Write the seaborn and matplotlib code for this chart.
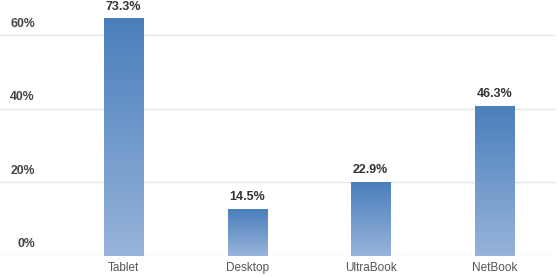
import numpy as np
import pandas as pd
import matplotlib
matplotlib.use("Agg")
import matplotlib.pyplot as plt
import seaborn as sns
from matplotlib.colors import LinearSegmentedColormap
import matplotlib.transforms as mtransforms

categories = ["Tablet", "Desktop", "UltraBook", "NetBook"]
values = [73.3, 14.5, 22.9, 46.3]
value_labels = ["73.3%", "14.5%", "22.9%", "46.3%"]
tick_labels = ["0%", "20%", "40%", "60%"]
tick_values = [0, 20, 40, 60]

sns.set_theme(style="white")
plt.rcParams['font.family'] = ['Liberation Sans', 'DejaVu Sans']

df = pd.DataFrame({"category": categories, "value": values})

fig = plt.figure(figsize=(5.57, 2.77), dpi=100)
ax = fig.add_axes([0 / 557, 21 / 277, 556 / 557, 256 / 277])

sns.barplot(data=df, x="category", y="value", ax=ax, width=0.316,
            color="#6f97c9", saturation=1, edgecolor="none", linewidth=0)

k = 1.135
ymax = 79.0

cmap = LinearSegmentedColormap.from_list("grad", ["#97b4da", "#4a7ebc"])
grad = np.linspace(0, 1, 256).reshape(-1, 1)
for patch in ax.patches:
    x0, y0 = patch.get_x(), patch.get_y()
    w, h = patch.get_width(), patch.get_height()
    im = ax.imshow(grad, cmap=cmap, origin="lower", aspect="auto",
                   extent=[x0, x0 + w, y0, y0 + h], zorder=2)
    im.set_clip_path(patch)
    patch.set_alpha(0)
ax.set_xlim(-1.0, 3.5)
ax.set_ylim(0, ymax)

for tv in tick_values:
    ax.axhline(tv * k, color="#e6e6e6", linewidth=1.0, zorder=0)

trans = mtransforms.blended_transform_factory(fig.transFigure, ax.transData)
for tv, tl in zip(tick_values, tick_labels):
    ax.annotate(tl, xy=(35 / 557, tv * k), xycoords=trans,
                xytext=(0, 4), textcoords="offset points",
                ha="right", va="bottom", fontsize=8.8, fontweight="bold",
                color="#444444", annotation_clip=False)

for i, (v, lab) in enumerate(zip(values, value_labels)):
    ax.annotate(lab, xy=(i, v), xytext=(0, 4), textcoords="offset points",
                ha="center", va="bottom", fontsize=9, fontweight="bold",
                color="#333333", annotation_clip=False)

ax.set_yticks([])
ax.set_xticks(range(len(categories)))
ax.set_xticklabels(categories, fontsize=8.5, color="#555555")
ax.tick_params(axis="x", length=0, pad=4)
ax.set_xlabel("")
ax.set_ylabel("")
for s in ax.spines.values():
    s.set_visible(False)

fig.savefig("out.png", dpi=100)
